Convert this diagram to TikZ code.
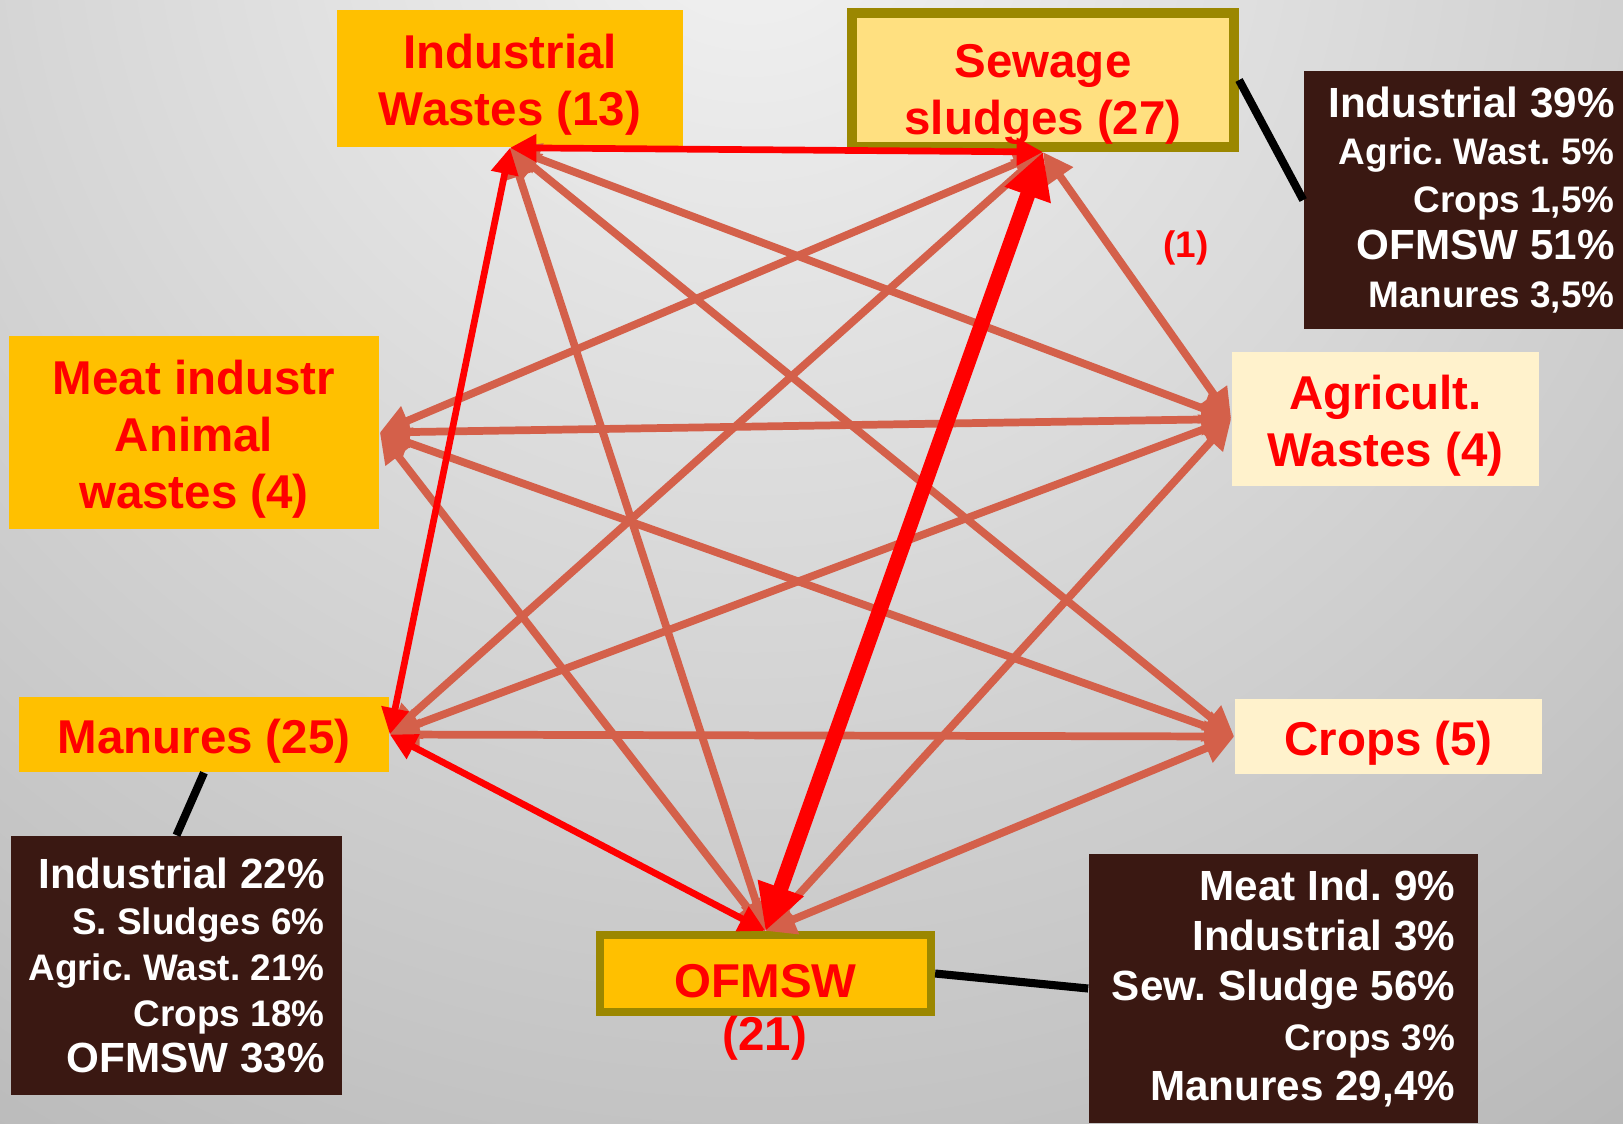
\documentclass[tikz,border=0pt]{standalone}
\usepackage{fontspec}
\setmainfont{Liberation Sans}
\usepackage{tikz}
\usetikzlibrary{arrows.meta}

\definecolor{boxgold}{HTML}{FFC000}
\definecolor{boxpale}{HTML}{FFE080}
\definecolor{boxcream}{HTML}{FFF2CC}
\definecolor{frameolive}{HTML}{9B8700}
\definecolor{infobrown}{HTML}{3A1812}
\definecolor{flowline}{HTML}{D4604A}
\newcommand{\pctsmall}{\fontsize{10.5pt}{13.5pt}\selectfont}
\newcommand{\textdrop}[1]{\rule{0pt}{#1}}

\begin{document}
\frenchspacing
\begin{tikzpicture}[x=0.01cm, y=-0.01cm,
  box/.style={inner sep=0pt, align=center, text=red, font=\fontsize{13.5pt}{16.3pt}\selectfont\bfseries},
  info/.style={fill=infobrown, text=white, align=right, inner sep=0pt, font=\fontsize{12pt}{13.5pt}\selectfont\bfseries},
  flow/.style={draw=flowline, line width=2.2pt, >={Triangle[length=8.5pt,width=8.5pt]}, <->},
  redflow/.style={draw=red, line width=1.9pt, >={Triangle[length=7.5pt,width=7.5pt]}, <->},
  bigflow/.style={draw=red, line width=4.3pt, >={Triangle[length=13pt,width=13pt]}, <->},
  link/.style={draw=black, line width=2.3pt}]
\useasboundingbox (0,0) rectangle (1623,1123);
\clip (0,0) rectangle (1623,1123);
\shade[inner color=black!5, outer color=black!50] (750,-100) circle (30cm);

\node[box, fill=boxgold, minimum width=3.46cm, minimum height=1.37cm] (ind) at (510,78.5) {\textdrop{1em}Industrial\\Wastes (13)};
\node[box, fill=boxpale, draw=frameolive, line width=2.8pt, minimum width=3.82cm, minimum height=1.34cm] (sew) at (1043,80) {\textdrop{1.3em}Sewage\\sludges (27)};
\node[box, fill=boxgold, minimum width=3.7cm, minimum height=1.93cm] (meat) at (194,432.5) {\textdrop{1em}Meat industr\\Animal\\wastes (4)};
\node[box, fill=boxcream, minimum width=3.07cm, minimum height=1.34cm] (agr) at (1385.5,419) {\textdrop{1em}Agricult.\\Wastes (4)};
\node[box, fill=boxgold, minimum width=3.7cm, minimum height=0.75cm] (man) at (204,734.5) {\textdrop{1em}Manures (25)};
\node[box, fill=boxcream, minimum width=3.07cm, minimum height=0.75cm] (crops) at (1388.5,736.5) {\textdrop{1em}Crops (5)};
\node[box, fill=boxgold, draw=frameolive, line width=2.3pt, minimum width=3.31cm, minimum height=0.77cm] (ofm) at (765.5,973.5) {\textdrop{1em}OFMSW};
\node[box] (ofmnum) at (765,1038) {(21)};
\node[box, font=\fontsize{10.5pt}{12pt}\selectfont\bfseries] (one) at (1186,248) {(1)};

\node[info, minimum width=3.35cm, minimum height=2.58cm] (sewinfo) at (1471.5,200) {Industrial 39\%\\{\pctsmall Agric. Wast. 5\%}\\{\pctsmall Crops 1,5\%}\\OFMSW 51\%\\{\pctsmall Manures 3,5\%}};
\node[info, font=\fontsize{12pt}{13.1pt}\selectfont\bfseries, minimum width=3.31cm, minimum height=2.59cm] (maninfo) at (176.5,965.5) {Industrial 22\%\\{\pctsmall S. Sludges 6\%}\\{\pctsmall Agric. Wast. 21\%}\\{\pctsmall Crops 18\%}\\OFMSW 33\%};
\node[info, font=\fontsize{12pt}{14.2pt}\selectfont\bfseries, minimum width=3.89cm, minimum height=2.69cm] (ofminfo) at (1283.5,988.5) {Meat Ind. 9\%\\Industrial 3\%\\Sew. Sludge 56\%\\{\pctsmall Crops 3\%}\\Manures 29,4\%};

\draw[link] (sew.east) -- (sewinfo.west);
\draw[link] (man.south) -- (maninfo.north);
\draw[link] (ofm.east) -- (ofminfo.west);

\draw[flow] (ind.south) -- (ofm.north);
\draw[flow] (ind.south) -- (agr.west);
\draw[flow] (ind.south) -- (crops.west);
\draw[flow] (sew.south) -- (meat.east);
\draw[flow] (sew.south) -- (man.east);
\draw[flow] (sew.south) -- (agr.west);
\draw[flow] (meat.east) -- (agr.west);
\draw[flow] (meat.east) -- (crops.west);
\draw[flow] (meat.east) -- (ofm.north);
\draw[flow] (man.east) -- (agr.west);
\draw[flow] (agr.west) -- (ofm.north);
\draw[flow] (man.east) -- (crops.west);
\draw[flow] (crops.west) -- (ofm.north);
\draw[redflow] (ind.south) -- (sew.south);
\draw[redflow] (ind.south) -- (man.east);
\draw[redflow] (man.east) -- (ofm.north);
\draw[bigflow] (sew.south) -- (ofm.north);
\end{tikzpicture}
\end{document}
